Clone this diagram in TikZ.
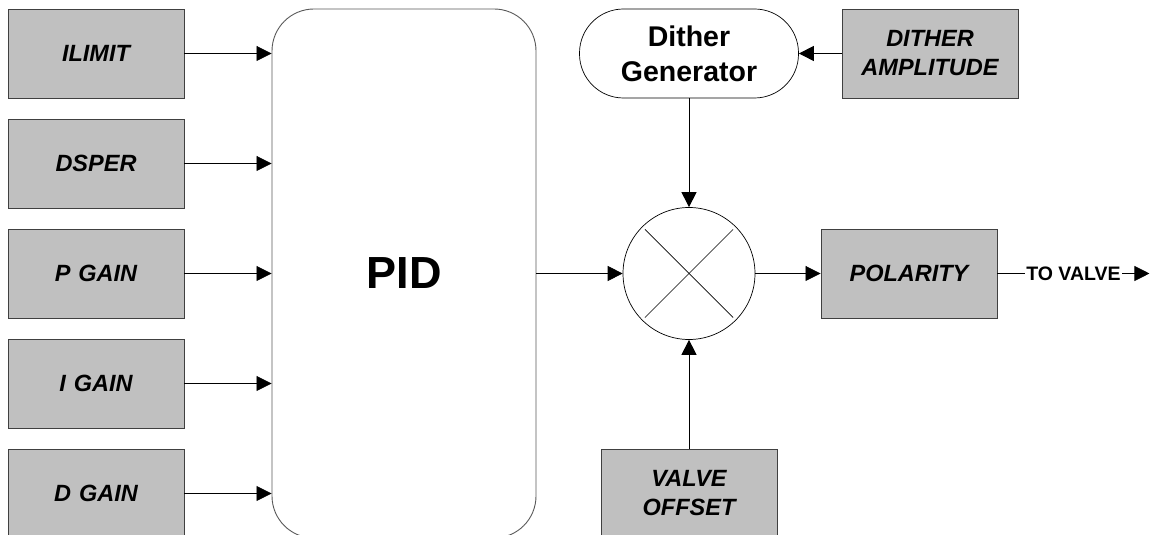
\documentclass[tikz,border=0pt]{standalone}
\usepackage{fontspec}
\setmainfont{Liberation Sans}
\usetikzlibrary{arrows.meta}
\definecolor{boxgray}{HTML}{C0C0C0}
\tikzstyle{param}=[draw=black!75, fill=boxgray, line width=0.9pt, text width=160pt,
  inner sep=8pt, text centered, minimum height=89pt,
  font=\fontsize{23.5}{29}\selectfont\bfseries\itshape]
\tikzstyle{pidblock}=[draw=black!65, line width=0.9pt, minimum width=264pt,
  minimum height=529pt, rounded corners=42pt, font=\fontsize{45}{50}\selectfont\bfseries]
\tikzstyle{generator}=[draw, line width=0.7pt, minimum width=219pt, minimum height=89pt,
  rounded corners=44pt, text width=180pt, text centered,
  font=\fontsize{28.5}{35}\selectfont\bfseries]
\tikzstyle{mixer}=[draw, circle, line width=0.7pt, minimum size=132pt, inner sep=0pt]
\tikzstyle{line}=[draw, line width=0.8pt, -{Triangle[length=15pt,width=15pt]}]
\tikzstyle{cross}=[draw, line width=0.7pt, shorten <=4pt, shorten >=4pt]
\tikzstyle{lbl}=[fill=white, inner sep=1pt, font=\fontsize{19.5}{23}\selectfont\bfseries]
\newcommand{\inputbox}[2]{node (#1) [param] {#2}}
\begin{document}
\begin{tikzpicture}[x=1pt,y=1pt]
  \useasboundingbox (0,0) rectangle (1151,535);
  \clip (0,0) rectangle (1151,535);

  % Draw diagram elements
  % parameter column
  \path (96,481.5) \inputbox{ILIMIT}{ILIMIT};
  \path (ILIMIT.center)+(0,-110) \inputbox{DSPER}{DSPER};
  \path (DSPER.center)+(0,-110) \inputbox{PGAIN}{P GAIN};
  \path (PGAIN.center)+(0,-110) \inputbox{IGAIN}{I GAIN};
  \path (IGAIN.center)+(0,-110) \inputbox{DGAIN}{D GAIN};

  % controller, mixer and output
  \path (PGAIN.center)+(308,0) node (PID) [pidblock] {PID};
  \path (PID.center)+(285,0) node (MIXER) [mixer] {};
  \path (MIXER.center)+(0,220) node (DITHERGEN) [generator] {Dither\\Generator};
  \path (DITHERGEN.center)+(241,0) \inputbox{DITHERAMP}{DITHER\\AMPLITUDE};
  \path (MIXER.center)+(220,0) \inputbox{POLARITY}{POLARITY};
  \path (MIXER.center)+(0,-220) \inputbox{VALVEOFFSET}{VALVE\\OFFSET};
  \path (POLARITY.east)+(152,0) coordinate (VALVEOUT);

  % cross inside the mixer
  \path [cross] (MIXER.north east) -- (MIXER.south west);
  \path [cross] (MIXER.north west) -- (MIXER.south east);

  % Draw arrows between elements
  \foreach \p in {ILIMIT,DSPER,PGAIN,IGAIN,DGAIN}
    \path [line] (\p.east) -- (\p.east -| PID.west);
  \path [line] (MIXER.west -| PID.east) -- (MIXER.west);
  \path [line] (DITHERAMP.west) -- (DITHERGEN.east);
  \path [line] (DITHERGEN.south) -- (MIXER.north);
  \path [line] (VALVEOFFSET.north) -- (MIXER.south);
  \path [line] (MIXER.east) -- (POLARITY.west);
  \path [line] (POLARITY.east) -- node [lbl] {TO VALVE} (VALVEOUT);

\end{tikzpicture}
\end{document}
